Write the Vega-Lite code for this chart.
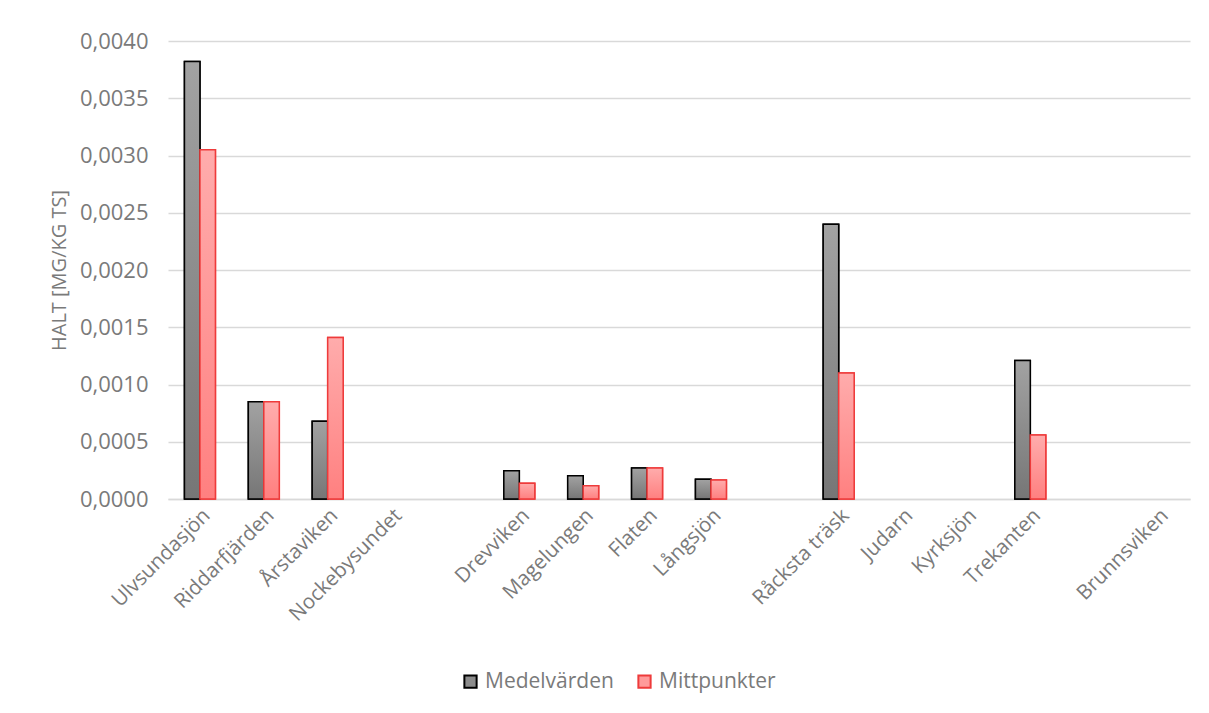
{
  "$schema": "https://vega.github.io/schema/vega-lite/v6.json",
  "width": 1022,
  "height": 458,
  "autosize": {"type": "none"},
  "padding": {"left": 168, "top": 41, "right": 19, "bottom": 214},
  "background": "white",
  "config": {
    "font": "Open Sans",
    "view": {"stroke": null},
    "axis": {"labelColor": "#7a7a7a", "titleColor": "#7a7a7a", "labelFont": "Open Sans", "titleFont": "Open Sans"}
  },
  "data": {
    "values": [
      {"sjo": "Ulvsundasjön", "serie": "Medelvärden", "halt": 0.00382},
      {"sjo": "Ulvsundasjön", "serie": "Mittpunkter", "halt": 0.00305},
      {"sjo": "Riddarfjärden", "serie": "Medelvärden", "halt": 0.00085},
      {"sjo": "Riddarfjärden", "serie": "Mittpunkter", "halt": 0.00085},
      {"sjo": "Årstaviken", "serie": "Medelvärden", "halt": 0.00068},
      {"sjo": "Årstaviken", "serie": "Mittpunkter", "halt": 0.00141},
      {"sjo": "Drevviken", "serie": "Medelvärden", "halt": 0.000247},
      {"sjo": "Drevviken", "serie": "Mittpunkter", "halt": 0.000137},
      {"sjo": "Magelungen", "serie": "Medelvärden", "halt": 0.000204},
      {"sjo": "Magelungen", "serie": "Mittpunkter", "halt": 0.000116},
      {"sjo": "Flaten", "serie": "Medelvärden", "halt": 0.000271},
      {"sjo": "Flaten", "serie": "Mittpunkter", "halt": 0.000271},
      {"sjo": "Långsjön", "serie": "Medelvärden", "halt": 0.000172},
      {"sjo": "Långsjön", "serie": "Mittpunkter", "halt": 0.000166},
      {"sjo": "Råcksta träsk", "serie": "Medelvärden", "halt": 0.0024},
      {"sjo": "Råcksta träsk", "serie": "Mittpunkter", "halt": 0.0011},
      {"sjo": "Trekanten", "serie": "Medelvärden", "halt": 0.00121},
      {"sjo": "Trekanten", "serie": "Mittpunkter", "halt": 0.00056}
    ]
  },
  "encoding": {
    "x": {
      "field": "sjo",
      "type": "nominal",
      "sort": null,
      "scale": {
        "domain": ["Ulvsundasjön", "Riddarfjärden", "Årstaviken", "Nockebysundet", " ", "Drevviken", "Magelungen", "Flaten", "Långsjön", "  ", "Råcksta träsk", "Judarn", "Kyrksjön", "Trekanten", "   ", "Brunnsviken"],
        "paddingInner": 0.515,
        "paddingOuter": 0.2575
      },
      "axis": {
        "title": null,
        "labelAngle": -45,
        "labelFontSize": 20.5,
        "labelPadding": 6,
        "ticks": false,
        "domain": true,
        "domainColor": "#d9d9d9",
        "domainWidth": 1.5,
        "grid": false
      }
    },
    "xOffset": {"field": "serie", "type": "nominal", "scale": {"domain": ["Medelvärden", "Mittpunkter"], "paddingInner": 0, "paddingOuter": 0}},
    "y": {
      "field": "halt",
      "type": "quantitative",
      "scale": {"domain": [0, 0.004], "nice": false},
      "axis": {
        "title": "HALT [MG/KG TS]",
        "titleFontSize": 20,
        "titleFontWeight": "normal",
        "titlePadding": 10,
        "labelFontSize": 22,
        "labelPadding": 20,
        "labelExpr": "replace(format(datum.value, '.4f'), '.', ',')",
        "values": [0, 0.0005, 0.001, 0.0015, 0.002, 0.0025, 0.003, 0.0035, 0.004],
        "ticks": false,
        "domain": false,
        "grid": true,
        "gridColor": "#d9d9d9",
        "gridWidth": 1.5
      }
    },
    "stroke": {
      "field": "serie",
      "type": "nominal",
      "scale": {"domain": ["Medelvärden", "Mittpunkter"], "range": ["#000000", "#ee3b3b"]},
      "legend": null
    }
  },
  "layer": [
    {
      "mark": {"type": "bar", "strokeWidth": 1.5},
      "encoding": {
        "color": {
          "field": "serie",
          "type": "nominal",
          "scale": {"domain": ["Medelvärden", "Mittpunkter"], "range": ["#8c8c8c", "#ff9a9a"]},
          "legend": {
            "title": null,
            "orient": "none",
            "direction": "horizontal",
            "legendX": 292,
            "legendY": 630,
            "symbolType": "square",
            "symbolSize": 150,
            "symbolStrokeWidth": 2,
            "labelFontSize": 21,
            "labelColor": "#7a7a7a",
            "labelFont": "Open Sans",
            "columnPadding": 20,
            "symbolOpacity": 1
          }
        }
      }
    },
    {
      "mark": {"type": "bar", "strokeWidth": 1.5},
      "encoding": {
        "color": {
          "condition": {
            "test": "datum.serie === 'Mittpunkter'",
            "value": {"gradient": "linear", "x1": 0, "y1": 0, "x2": 0, "y2": 1, "stops": [{"offset": 0, "color": "#ffacac"}, {"offset": 1, "color": "#ff8080"}]}
          },
          "value": {"gradient": "linear", "x1": 0, "y1": 0, "x2": 0, "y2": 1, "stops": [{"offset": 0, "color": "#a2a2a2"}, {"offset": 1, "color": "#767676"}]}
        }
      }
    }
  ]
}
